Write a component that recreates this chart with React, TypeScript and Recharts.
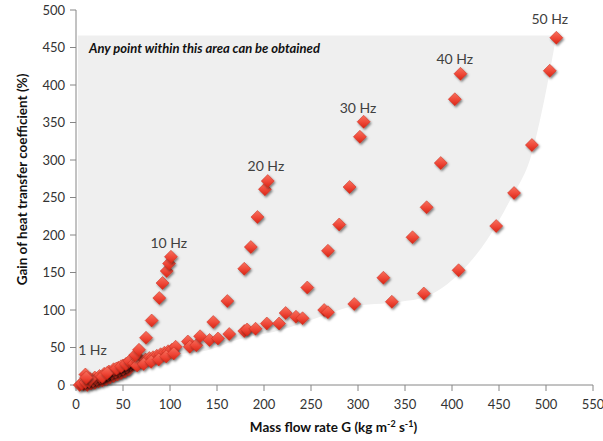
import React from "react";
import { Area, ComposedChart, ReferenceDot, Scatter, XAxis, YAxis } from "recharts";

// [G (kg m-2 s-1), gain (%)]
type Pt = [number, number];

const hz1: Pt[] = [
  [4, 0], [8, 1], [12, 0], [16, 2], [20, 3], [24, 5], [28, 6], [32, 8], [36, 10], [40, 12], [44, 14], [48, 16], [52, 18], [56, 21],
  [6, 2], [10, 4], [14, 5], [18, 6], [22, 8], [26, 10], [30, 12], [34, 14], [38, 16], [42, 18], [46, 20], [50, 22], [54, 25], [58, 28],
  [20, 10], [25, 12], [30, 15], [35, 18], [40, 21], [45, 23], [50, 26], [55, 29], [60, 31],
  [15, 8], [28, 11], [33, 16], [43, 22], [48, 25], [53, 28], [57, 32],
  [10, 14], [11, 10],
];

const hz10: Pt[] = [
  [62, 29], [66, 31], [70, 32], [74, 34], [78, 36], [82, 37], [86, 39], [90, 41], [94, 43], [98, 45], [102, 47], [106, 51],
  [65, 26], [72, 28], [80, 31], [88, 34], [96, 38], [104, 42],
  [63, 40], [67, 47], [74.5, 63], [80.5, 86], [88.6, 116], [92, 136], [96.5, 152], [99, 162], [101, 171],
];

const hz20: Pt[] = [
  [119, 58], [121, 51], [128, 53], [132, 65], [142, 60], [151, 62], [163, 68], [179, 72], [182, 74], [191, 75], [203, 82],
  [146, 84], [161, 112], [179, 155], [186, 184], [193, 224], [201, 261], [204, 272],
];

const hz30: Pt[] = [
  [216, 82], [223, 96], [234, 91], [241, 89], [264, 100], [268, 97],
  [246, 130], [268, 179], [280, 214], [291, 264], [302, 331], [306, 351],
];

const hz40: Pt[] = [
  [296, 108], [336, 111],
  [327, 143], [358, 197], [373, 237], [388, 296], [403, 381], [409, 415],
];

const hz50: Pt[] = [
  [370, 122], [407, 153], [447, 212], [466, 256], [485, 320], [504, 419], [511, 463],
];

// shaded "obtainable" region: lower boundary per G, flat top
const areaG = [2, 47, 100, 142, 171, 217, 260, 291, 345, 373, 408, 437, 462, 485, 501, 511];
const areaLow = [0, 17, 39, 47, 60, 73, 91, 104, 111, 118, 149, 193, 247, 309, 398, 466];
const areaTop = 466;

const freqLabels = [
  { text: "1 Hz", G: 17.5, gain: 47 },
  { text: "10 Hz", G: 98.7, gain: 190 },
  { text: "20 Hz", G: 202, gain: 293 },
  { text: "30 Hz", G: 300, gain: 370 },
  { text: "40 Hz", G: 403, gain: 436 },
  { text: "50 Hz", G: 504, gain: 489 },
];

const xTicks = [0, 50, 100, 150, 200, 250, 300, 350, 400, 450, 500, 550];
const yTicks = [0, 50, 100, 150, 200, 250, 300, 350, 400, 450, 500];

const FONT = "Lato, 'Open Sans', sans-serif";
const AXIS = "#868686";

const toRows = (pts: Pt[]) => pts.map(([G, gain]) => ({ G, gain }));
const areaData = areaG.map((G, i) => ({ G, range: [areaLow[i], areaTop] }));

function Diamond(props: any) {
  const { cx, cy } = props;
  if (cx == null || cy == null) return null;
  const r = 6.5;
  const d = `M${cx},${cy - r}L${cx + r},${cy}L${cx},${cy + r}L${cx - r},${cy}Z`;
  return (
    <path
      d={d}
      fill="url(#diamondFill)"
      stroke="#c92a1c"
      strokeWidth={0.5}
      filter="url(#diamondShadow)"
    />
  );
}

function FreqLabel({ viewBox, text }: any) {
  if (!viewBox) return null;
  return (
    <text
      x={viewBox.x + viewBox.width / 2}
      y={viewBox.y + viewBox.height / 2}
      textAnchor="middle"
      dominantBaseline="central"
      fontFamily={FONT}
      fontSize={14}
      fill="#404040"
    >
      {text}
    </text>
  );
}

function AreaNote({ viewBox }: any) {
  if (!viewBox) return null;
  return (
    <text
      x={viewBox.x}
      y={viewBox.y + viewBox.height / 2}
      dominantBaseline="central"
      fontFamily={FONT}
      fontSize={13}
      fontWeight="bold"
      fontStyle="italic"
      fill="#111"
    >
      Any point within this area can be obtained
    </text>
  );
}

function YTitle({ viewBox }: any) {
  const x = viewBox.x + 22;
  const y = viewBox.y + viewBox.height / 2 - 18;
  return (
    <text
      x={x}
      y={y}
      transform={`rotate(-90 ${x} ${y})`}
      textAnchor="middle"
      dominantBaseline="central"
      fontFamily={FONT}
      fontSize={13.5}
      fontWeight="bold"
      fill="#111"
    >
      Gain of heat transfer coefficient (%)
    </text>
  );
}

function XTitle({ viewBox }: any) {
  const x = viewBox.x + viewBox.width / 2 - 1;
  const y = viewBox.y + 47;
  return (
    <text x={x} y={y} textAnchor="middle" fontFamily={FONT} fontSize={13.5} fontWeight="bold" fill="#111">
      Mass flow rate G (kg m
      <tspan dy={-5} fontSize={9}>-2</tspan>
      <tspan dy={5}> s</tspan>
      <tspan dy={-5} fontSize={9}>-1</tspan>
      <tspan dy={5}>)</tspan>
    </text>
  );
}

const series = [hz1, hz10, hz20, hz30, hz40, hz50];

export default function App() {
  return (
    <div style={{ position: "absolute", left: 0, top: 0, background: "#fff" }}>
      <ComposedChart width={603} height={441} margin={{ top: 10, right: 10, bottom: 0, left: 0 }}>
        <defs>
          <linearGradient id="diamondFill" x1="0" y1="0" x2="0" y2="1">
            <stop offset="0%" stopColor="#f6725f" />
            <stop offset="50%" stopColor="#f04a3a" />
            <stop offset="100%" stopColor="#d92414" />
          </linearGradient>
          <filter id="diamondShadow" x="-60%" y="-60%" width="220%" height="220%">
            <feDropShadow dx="1.2" dy="1.6" stdDeviation="1" floodColor="#000" floodOpacity="0.5" />
          </filter>
        </defs>
        <XAxis
          type="number"
          dataKey="G"
          domain={[0, 550]}
          ticks={xTicks}
          interval={0}
          stroke={AXIS}
          tickSize={6}
          tickMargin={9}
          tick={{ fontFamily: FONT, fontSize: 13, fill: "#333" }}
          height={56}
          label={{ content: (p: any) => <XTitle {...p} /> }}
        />
        <YAxis
          type="number"
          domain={[0, 500]}
          ticks={yTicks}
          interval={0}
          stroke={AXIS}
          tickSize={6}
          tickMargin={5}
          tick={{ fontFamily: FONT, fontSize: 13, fill: "#333" }}
          width={76}
          label={{ content: (p: any) => <YTitle {...p} /> }}
        />
        <Area
          data={areaData}
          dataKey="range"
          type="monotone"
          fill="#efefef"
          fillOpacity={1}
          stroke="none"
          isAnimationActive={false}
          activeDot={false}
          dot={false}
        />
        {series.map((pts, i) => (
          <Scatter
            key={i}
            data={toRows(pts)}
            dataKey="gain"
            shape={Diamond}
            isAnimationActive={false}
          />
        ))}
        <ReferenceDot
          x={14.9}
          y={449}
          r={1}
          fill="none"
          stroke="none"
          label={{ content: (p: any) => <AreaNote {...p} /> }}
        />
        {freqLabels.map((l) => (
          <ReferenceDot
            key={l.text}
            x={l.G}
            y={l.gain}
            r={1}
            fill="none"
            stroke="none"
            label={{ content: (p: any) => <FreqLabel {...p} text={l.text} /> }}
          />
        ))}
      </ComposedChart>
    </div>
  );
}
